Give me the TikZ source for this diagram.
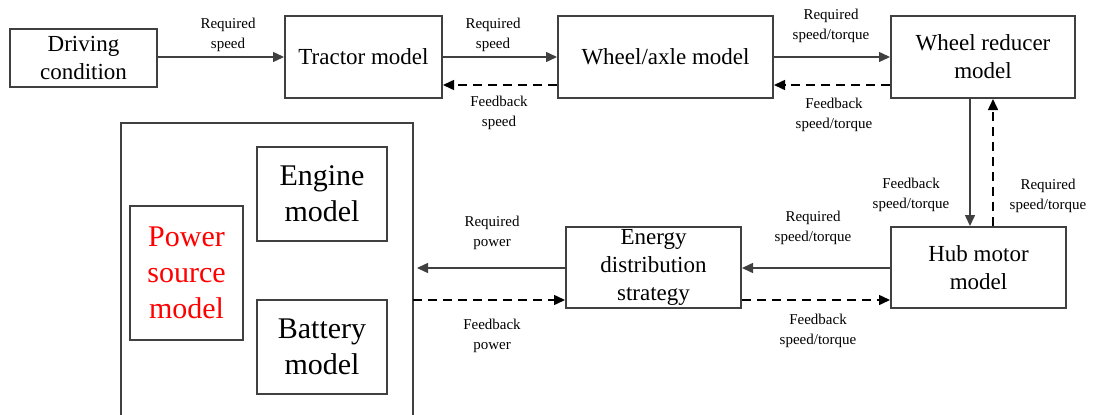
\documentclass[tikz,border=0pt]{standalone}
\usepackage{fontspec}
\setmainfont{Liberation Serif}
\usetikzlibrary{arrows.meta}
\definecolor{lc}{HTML}{404040}
\definecolor{pred}{HTML}{FF0000}
\begin{document}
\begin{tikzpicture}[x=1pt,y=-1pt,
  box/.style={draw=lc,line width=2pt,align=center,inner sep=0pt,font=\fontsize{23}{28}\selectfont},
  bigbox/.style={box,font=\fontsize{30}{36}\selectfont},
  lbl/.style={align=center,inner sep=0pt,font=\fontsize{15}{20.5}\selectfont},
  arr/.style={draw=lc,line width=1.5pt,-{Triangle[length=11pt,width=10pt]}},
  darr/.style={draw=black,line width=1.5pt,dash pattern=on 9pt off 6pt,-{Triangle[length=11pt,width=10pt]}}]
\useasboundingbox (0,0) rectangle (1096,415);
\begin{scope}
\clip (0,0) rectangle (1096,415);
\draw[lc,line width=2pt] (121,430) -- (121,123) -- (413,123) -- (413,430);
\end{scope}
\node[box,minimum width=147pt,minimum height=58pt] (drive) at (83.5,58) {Driving\\condition};
\node[box,minimum width=157pt,minimum height=82pt] (tractor) at (363.5,57) {Tractor model};
\node[box,minimum width=215pt,minimum height=82pt] (wheel) at (665.5,57) {Wheel/axle model};
\node[box,minimum width=184pt,minimum height=82pt] (reducer) at (983,57) {Wheel reducer\\model};
\node[box,minimum width=175pt,minimum height=81pt] (hub) at (978.5,267.5) {Hub motor\\model};
\node[box,minimum width=175pt,minimum height=81pt] (energy) at (653.5,267.5) {Energy\\distribution\\strategy};
\node[bigbox,minimum width=113pt,minimum height=134pt,text=pred] (power) at (186.5,273) {Power\\source\\model};
\node[bigbox,minimum width=130pt,minimum height=94pt] (engine) at (322,194) {Engine\\model};
\node[bigbox,minimum width=130pt,minimum height=94pt] (battery) at (322,347) {Battery\\model};
\coordinate (pl) at (417,268);
\coordinate (pf) at (413,300);
% top row
\draw[arr] (drive.east |- 0,57) -- (tractor.west |- 0,57);
\draw[arr] (tractor.east |- 0,57) -- (wheel.west |- 0,57);
\draw[arr] (wheel.east |- 0,57) -- (reducer.west |- 0,57);
\draw[darr] (wheel.west |- 0,85) -- (tractor.east |- 0,85);
\draw[darr] (reducer.west |- 0,85) -- (wheel.east |- 0,85);
% vertical
\draw[arr] (reducer.south -| 970,0) -- (hub.north -| 970,0);
\draw[darr] (hub.north -| 993,0) -- (reducer.south -| 993,0);
% bottom row
\draw[arr] (hub.west |- 0,268) -- (energy.east |- 0,268);
\draw[arr] (energy.west |- 0,268) -- (pl);
\draw[darr] (pf) -- (energy.west |- 0,300);
\draw[darr] (energy.east |- 0,300) -- (hub.west |- 0,300);
% labels
\node[lbl] (l1) at (228,35) {Required\\speed};
\node[lbl] (l2) at (493,35) {Required\\speed};
\node[lbl] (l3) at (499,113) {Feedback\\speed};
\node[lbl] (l4) at (831,26) {Required\\speed/torque};
\node[lbl] (l5) at (834,115) {Feedback\\speed/torque};
\node[lbl] (l6) at (911,195) {Feedback\\speed/torque};
\node[lbl] (l7) at (1048,196) {Required\\speed/torque};
\node[lbl] (l8) at (813,228) {Required\\speed/torque};
\node[lbl] (l9) at (818,331) {Feedback\\speed/torque};
\node[lbl] (l10) at (492,233) {Required\\power};
\node[lbl] (l11) at (492,336) {Feedback\\power};
\end{tikzpicture}
\end{document}
